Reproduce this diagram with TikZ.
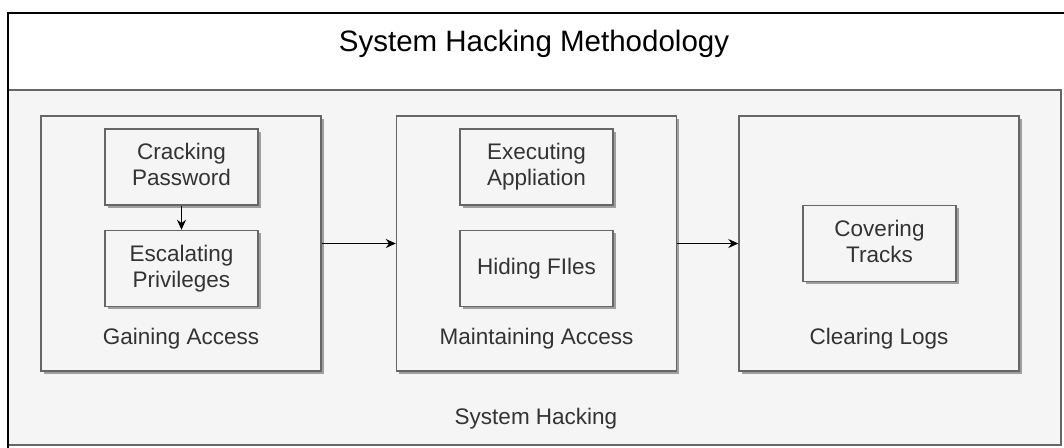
\documentclass[tikz,border=0pt]{standalone}
\usepackage{fontspec}
\setmainfont{Liberation Sans}
\usetikzlibrary{shadows,arrows.meta}
\definecolor{boxfill}{HTML}{F5F5F5}
\definecolor{boxline}{HTML}{666666}
\definecolor{boxtext}{HTML}{333333}
\begin{document}
\begin{tikzpicture}[x=1pt,y=-1pt,
  shade/.style={drop shadow={shadow xshift=2.5pt,shadow yshift=-2.5pt,fill=black,opacity=0.35}},
  panel/.style={draw=boxline,fill=boxfill,line width=1.4pt,minimum width=280pt,minimum height=255pt,inner sep=0pt,shade},
  stepbox/.style={draw=boxline,fill=boxfill,line width=1.4pt,minimum width=153pt,minimum height=76pt,inner sep=0pt,align=center,text=boxtext,font=\fontsize{22.5}{26}\selectfont,shade},
  lbl/.style={text=boxtext,font=\fontsize{22.5}{26}\selectfont,inner sep=0pt,anchor=base},
  link/.style={-{Stealth[length=10pt,width=9pt]},line width=1.5pt}
]
\useasboundingbox (0,0) rectangle (1064,447);
\clip (0,0) rectangle (1064,447);

% header band and outer container
\fill[white] (8,13) rectangle (1080,90);
\draw[boxline,fill=boxfill,line width=1.4pt] (8,90) rectangle (1061,445);
\draw[black,line width=2pt] (8,13) rectangle (1080,470);
\node[font=\fontsize{29.5}{34}\selectfont,anchor=base,inner sep=0pt] (title) at (534,51) {System Hacking Methodology};

% phase panels
\node[panel] (p1) at (181,243.5) {};
\node[panel] (p2) at (536.5,243.5) {};
\node[panel] (p3) at (879,243.5) {};

% steps inside each phase (equal descender depth on every last line)
\node[stepbox] (crack) at (181.5,167) {Cracking\\Password\vphantom{g}};
\node[stepbox] (escal) at (181.5,268.5) {Escalating\\Privileges};
\node[stepbox] (exec) at (536.5,167) {Executing\\Appliation};
\node[stepbox] (hide) at (536.5,268.5) {Hiding FIles};
\node[stepbox] (cover) at (879.5,243.5) {Covering\\Tracks\vphantom{g}};

% phase names
\node[lbl] (l1) at (181,344) {Gaining Access};
\node[lbl] (l2) at (536.5,344) {Maintaining Access};
\node[lbl] (l3) at (879,344) {Clearing Logs};
\node[lbl] (l4) at (536,424) {System Hacking};

% flow
\draw[link] (crack) -- (escal);
\draw[link] (p1.east) -- (p2.west);
\draw[link] (p2.east) -- (p3.west);
\end{tikzpicture}
\end{document}
